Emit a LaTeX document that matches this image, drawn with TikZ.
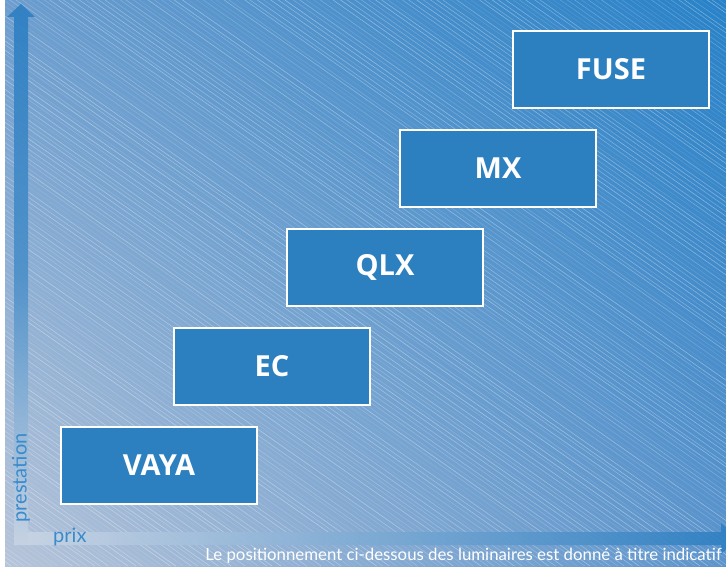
\documentclass[tikz,border=0pt]{standalone}
\usepackage{fontspec}
\usetikzlibrary{shadings}
\setmainfont{Open Sans}
\newfontfamily\lightfont{Lato}
\definecolor{boxblue}{RGB}{44,128,192}
\definecolor{bgUL}{RGB}{108,157,206}
\definecolor{bgUR}{RGB}{40,130,200}
\definecolor{bgLL}{RGB}{182,196,217}
\definecolor{bgLR}{RGB}{92,148,204}
\definecolor{arrblue}{RGB}{44,126,194}
\definecolor{arrpale}{RGB}{200,212,228}
\definecolor{labblue}{RGB}{58,139,203}
\tikzset{
  prodbox/.style={draw=white, line width=2.5pt, fill=boxblue, minimum width=196pt, minimum height=77pt, inner sep=0pt, text=white, font=\fontsize{29}{29}\selectfont\bfseries},
  axislabel/.style={text=labblue, inner sep=0pt, font=\lightfont\fontsize{20}{20}\selectfont},
}
\begin{document}
\begin{tikzpicture}[x=1pt,y=1pt]
\useasboundingbox (0,0) rectangle (726,566);
\fill[white] (0,0) rectangle (726,566);
\shade[upper left=bgUL, upper right=bgUR, lower left=bgLL, lower right=bgLR] (5,0) rectangle (726,566);
\begin{scope}
\clip (5,0) rectangle (726,566);
\pgfmathsetseed{7}
\foreach \i in {0,...,225} {
  \pgfmathsetmacro\xx{-820+\i*6.9+rnd*2.5}
  \pgfmathsetmacro\op{0.08+0.3*rnd}
  \draw[white, opacity=\op, line width=0.6pt] (\xx,566) -- ++(809,-566);
}
% axes
\shade[top color=arrblue, bottom color=arrpale, middle color=arrblue!80!arrpale, opacity=0.9]
  (14,21) -- (14,549) -- (7,549) -- (21,562) -- (35,549) -- (28,549) -- (28,21) -- cycle;
\shade[left color=arrpale, right color=arrblue, opacity=0.9]
  (28,21) -- (721,21) -- (721,12) -- (738,27.5) -- (721,43) -- (721,34) -- (28,34) -- cycle;
\end{scope}
\node[prodbox] (vaya) at (159,100.5) {VAYA};
\node[prodbox] (ec) at (272,199.5) {EC};
\node[prodbox] (qlx) at (385,298.5) {QLX};
\node[prodbox] (mx) at (498,397.5) {MX};
\node[prodbox] (fuse) at (611,496.5) {FUSE};
\node[axislabel, rotate=90] (prest) at (21,88) {prestation};
\node[axislabel, anchor=base west] (prix) at (53,24) {prix};
\node[anchor=base east, inner sep=0pt, text=white, font=\lightfont\fontsize{16.8}{16.8}\selectfont] (note) at (722,6) {Le positionnement ci-dessous des luminaires est donné à titre indicatif};
\end{tikzpicture}
\end{document}
